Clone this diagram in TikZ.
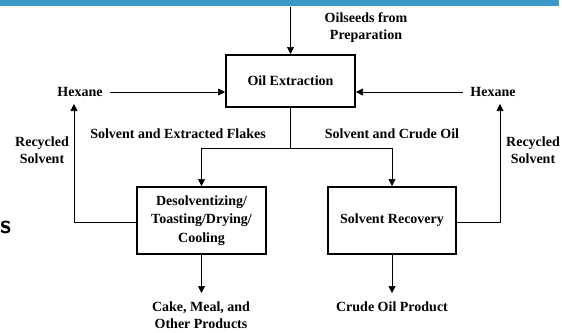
\documentclass[tikz,border=0pt]{standalone}
\usepackage{fontspec}
\setmainfont{Liberation Serif}
\usetikzlibrary{arrows.meta}
\begin{document}
\begin{tikzpicture}[x=1pt,y=-1pt,
  txt/.style={font=\bfseries\fontsize{14}{17}\selectfont, align=center, inner sep=0pt},
  proc/.style={draw, line width=2pt, minimum width=#1, inner sep=0pt, font=\bfseries\fontsize{14}{18.5}\selectfont, align=center},
  arr/.style={-{Triangle[length=7pt,width=7pt]}, line width=0.7pt},
  ln/.style={line width=0.7pt}]
\useasboundingbox (0,0) rectangle (562,332);
\fill[fill={rgb,255:red,58;green,154;blue,200}] (0,0) rectangle (559,6);
% process boxes
\node[proc=129pt, minimum height=52pt] (ext) at (290.5,81) {Oil Extraction};
\node[proc=129pt, minimum height=67pt] (des) at (201.5,220.5) {Desolventizing/\\Toasting/Drying/\\Cooling};
\node[proc=128pt, minimum height=67pt] (rec) at (392,220.5) {Solvent Recovery};
% texts
\node[txt] (oil) at (366,28) {Oilseeds from\\Preparation};
\node[txt] (hexl) at (80,92) {Hexane};
\node[txt] (hexr) at (493,92) {Hexane};
\node[txt] (rsl) at (42,150) {Recycled\\Solvent};
\node[txt] (rsr) at (533,150) {Recycled\\Solvent};
\node[txt] (sef) at (178,134) {Solvent and Extracted Flakes};
\node[txt] (sco) at (392,134) {Solvent and Crude Oil};
\node[txt] (cake) at (201,315) {Cake, Meal, and\\Other Products};
\node[txt] (crude) at (392,307) {Crude Oil Product};
\node[font=\sffamily\bfseries\fontsize{26}{28}\selectfont, anchor=west, inner sep=0pt] (s) at (0,227) {s};
% coordinates
\coordinate (top) at (290.5,7);
\coordinate (split) at (290.5,148);
\coordinate (spl) at (201.5,148);
\coordinate (spr) at (392,148);
\coordinate (rl) at (74,222);
\coordinate (rr) at (500,222);
\coordinate (rlt) at (74,104);
\coordinate (rrt) at (500,104);
\coordinate (hl) at (110,92);
\coordinate (hr) at (463,92);
\coordinate (cl) at (201.5,293);
\coordinate (cr) at (392,293);
% connectors
\draw[arr] (top) -- (ext.north);
\draw[arr] (hl) -- (ext.west |- hl);
\draw[arr] (hr) -- (ext.east |- hr);
\draw[ln] (ext.south) -- (split);
\draw[arr] (split) -- (spl) -- (des.north);
\draw[arr] (split) -- (spr) -- (rec.north);
\draw[arr] (des.west |- rl) -- (rl) -- (rlt);
\draw[arr] (rec.east |- rr) -- (rr) -- (rrt);
\draw[arr] (des.south) -- (cl);
\draw[arr] (rec.south) -- (cr);
\end{tikzpicture}
\end{document}
